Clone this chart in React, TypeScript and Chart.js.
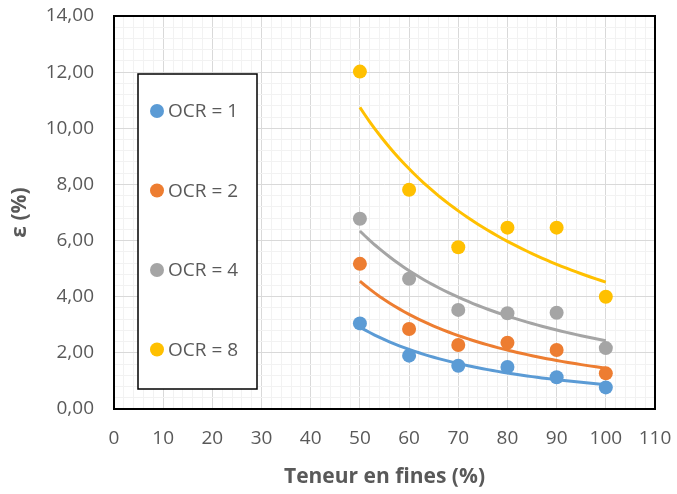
import React, { useEffect, useRef } from "react";
import { Chart, registerables } from "chart.js";

Chart.register(...registerables);

const fines = [50, 60, 70, 80, 90, 100];
const ocr1 = [3.05, 1.9, 1.54, 1.5, 1.13, 0.77];
const ocr2 = [5.17, 2.85, 2.28, 2.36, 2.1, 1.27];
const ocr4 = [6.78, 4.64, 3.53, 3.41, 3.43, 2.17];
const ocr8 = [12.02, 7.81, 5.76, 6.46, 6.46, 4.0];
const labels = ["OCR = 1", "OCR = 2", "OCR = 4", "OCR = 8"];
const colors = ["#5B9BD5", "#ED7D31", "#A5A5A5", "#FFC000"];

const FONT = "'Open Sans', 'Liberation Sans', sans-serif";
const TEXT = "#595959";

// Power trendline (Excel style): y = a * x^b fitted by least squares in log space
function powerFit(xs: number[], ys: number[]) {
  const lx = xs.map(Math.log);
  const ly = ys.map(Math.log);
  const n = xs.length;
  const mx = lx.reduce((s, v) => s + v, 0) / n;
  const my = ly.reduce((s, v) => s + v, 0) / n;
  let sxy = 0, sxx = 0;
  for (let i = 0; i < n; i++) {
    sxy += (lx[i] - mx) * (ly[i] - my);
    sxx += (lx[i] - mx) ** 2;
  }
  const b = sxy / sxx;
  const a = Math.exp(my - b * mx);
  const pts: { x: number; y: number }[] = [];
  for (let x = xs[0]; x <= xs[n - 1]; x += 1) pts.push({ x, y: a * Math.pow(x, b) });
  return pts;
}

const isMult = (v: number, m: number) => Math.abs(v / m - Math.round(v / m)) < 1e-6;

export default function App() {
  const ref = useRef<HTMLCanvasElement>(null);
  useEffect(() => {
    document.body.style.margin = "0";
    const series = [ocr1, ocr2, ocr4, ocr8];
    const datasets: any[] = [];
    series.forEach((s, i) => {
      datasets.push({
        label: labels[i] + " (tendance)",
        data: powerFit(fines, s),
        showLine: true,
        borderColor: colors[i],
        borderWidth: 3,
        pointRadius: 0,
        fill: false,
        tension: 0,
        order: 2,
      });
    });
    series.forEach((s, i) => {
      datasets.push({
        label: labels[i],
        data: fines.map((x, j) => ({ x, y: s[j] })),
        backgroundColor: colors[i],
        borderColor: colors[i],
        pointRadius: 7,
        pointBorderWidth: 0,
        showLine: false,
        order: 1,
      });
    });

    const frame = {
      id: "frame",
      beforeDatasetsDraw(chart: any) {
        const { ctx, chartArea: a } = chart;
        ctx.save();
        ctx.strokeStyle = "#000";
        ctx.lineWidth = 2;
        ctx.strokeRect(a.left, a.top, a.right - a.left, a.bottom - a.top);
        ctx.restore();
      },
      afterDatasetsDraw(chart: any) {
        const { ctx, chartArea: a } = chart;
        const bx = a.left + 24, by = a.top + 58, bw = 119, bh = 315;
        ctx.save();
        ctx.fillStyle = "#fff";
        ctx.fillRect(bx, by, bw, bh);
        ctx.strokeStyle = "#000";
        ctx.lineWidth = 1.5;
        ctx.strokeRect(bx, by, bw, bh);
        ctx.font = `19px ${FONT}`;
        ctx.textBaseline = "middle";
        labels.forEach((l, i) => {
          const cy = by + 37 + i * 79.5;
          ctx.fillStyle = colors[i];
          ctx.beginPath();
          ctx.arc(bx + 19, cy, 7, 0, Math.PI * 2);
          ctx.fill();
          ctx.fillStyle = TEXT;
          ctx.fillText(l, bx + 30, cy + 1);
        });
        ctx.restore();
      },
    };

    const chart = new Chart(ref.current!, {
      type: "scatter",
      data: { datasets },
      plugins: [frame],
      options: {
        animation: false,
        responsive: false,
        layout: { padding: { top: 16, right: 22, left: 0, bottom: 0 } },
        plugins: { legend: { display: false }, tooltip: { enabled: false } },
        scales: {
          x: {
            type: "linear",
            min: 0,
            max: 110,
            afterFit: (s: any) => {
              s.height = 85;
              s.paddingLeft = 0;
              s.paddingRight = 0;
            },
            ticks: {
              stepSize: 2,
              autoSkip: false,
              maxRotation: 0,
              padding: 18,
              color: TEXT,
              font: { family: FONT, size: 19 },
              callback: (v: any) => (isMult(Number(v), 10) ? String(Math.round(Number(v))) : ""),
            },
            grid: {
              drawTicks: false,
              lineWidth: 1,
              color: (c: any) => (isMult(c.tick.value, 10) ? "#D9D9D9" : "#F2F2F2"),
            },
            border: { display: false },
            title: {
              display: true,
              text: "Teneur en fines (%)",
              color: TEXT,
              font: { family: FONT, size: 21, weight: "bold" },
              padding: { top: 3 },
            },
          },
          y: {
            type: "linear",
            min: 0,
            max: 14,
            afterFit: (s: any) => {
              s.width = 114;
              s.paddingTop = 0;
              s.paddingBottom = 0;
            },
            ticks: {
              stepSize: 0.4,
              autoSkip: false,
              padding: 20,
              color: TEXT,
              font: { family: FONT, size: 19 },
              callback: (v: any) => (isMult(Number(v), 2) ? Number(v).toFixed(2).replace(".", ",") : ""),
            },
            grid: {
              drawTicks: false,
              lineWidth: 1,
              color: (c: any) => (isMult(c.tick.value, 2) ? "#D9D9D9" : "#F2F2F2"),
            },
            border: { display: false },
            title: {
              display: true,
              text: "ε (%)",
              color: TEXT,
              font: { family: FONT, size: 21, weight: "bold" },
              padding: { top: 7, bottom: 0 },
            },
          },
        },
      },
    });
    return () => chart.destroy();
  }, []);
  return (
    <div style={{ width: 677, height: 494 }}>
      <canvas ref={ref} width={677} height={494} style={{ display: "block" }} />
    </div>
  );
}
